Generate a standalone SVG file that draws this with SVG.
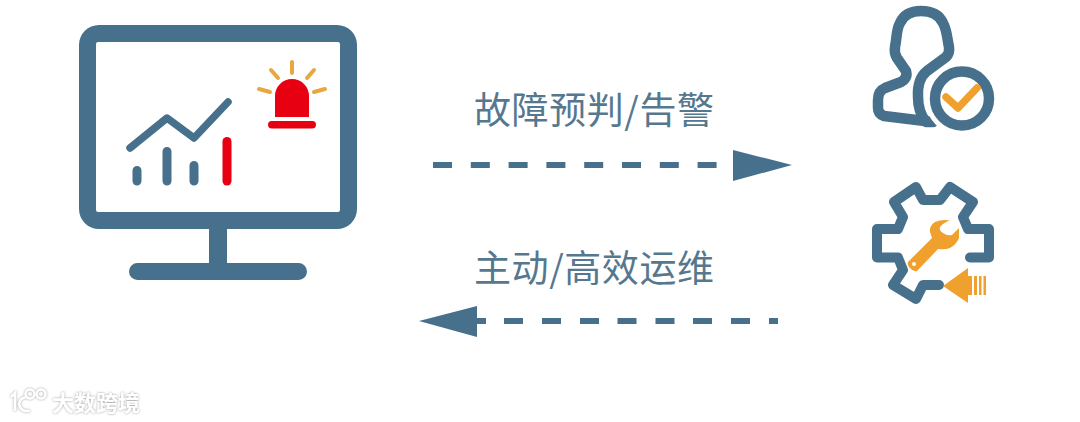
<svg xmlns="http://www.w3.org/2000/svg" width="1080" height="422" viewBox="0 0 1080 422">
<style>
.blue{fill:#46708c}
.line{fill:none;stroke:#46708c;stroke-linecap:round;stroke-linejoin:round}
.or{stroke:#e8a73f;stroke-linecap:round;fill:none}
.red{fill:#e60012}
.lbl{font-family:"Noto Sans CJK SC","Liberation Sans",sans-serif;font-size:37px;fill:#55788f}
.dash{fill:none;stroke:#46708c;stroke-width:6}
.wm{font-family:"Noto Sans CJK SC",sans-serif;font-size:22px;fill:#fff;font-weight:700}
.wl{fill:none;stroke:#fff;stroke-width:2.500}
</style>
<defs>
<filter id="glow" x="-10%" y="-30%" width="120%" height="160%">
<feDropShadow dx="0" dy="0" stdDeviation="1.200" flood-color="#8a8a8a" flood-opacity="0.900"/>
</filter>
</defs>
<rect width="1080" height="422" fill="#fff"/>
<g id="monitor">
<path class="blue" fill-rule="evenodd" d="M99 25H337A20 20 0 0 1 357 45V209A20 20 0 0 1 337 229H227V263H298.500A8.500 8.500 0 0 1 298.500 280H137.500A8.500 8.500 0 0 1 137.500 263H209V229H99A20 20 0 0 1 79 209V45A20 20 0 0 1 99 25ZM98 42A2 2 0 0 0 96 44V210A2 2 0 0 0 98 212H338A2 2 0 0 0 340 210V44A2 2 0 0 0 338 42Z"/>
<path class="line" stroke-width="7.500" d="M130 148L167 118L194 138L228 102"/>
<path class="line" stroke-width="9" d="M137 170.500V181M167 151.500V181M194 165.500V181"/>
<path d="M227 141.500V181" stroke="#e60012" stroke-width="9" stroke-linecap="round"/>
<path class="red" d="M275 117V96A17 17 0 0 1 309 96V117Z"/>
<rect class="red" x="268" y="121" width="48" height="7.500" rx="3.700"/>
<path class="or" stroke-width="4" d="M292 62V73M271 70L278 78M314 70L307 78M259 89L270 92M325 89L314 92"/>
</g>
<g id="user">
<path class="line" stroke-width="10.500" d="M933 122L884 116Q878 114 878 108V100Q878 91 885 88L901 82Q908 78 906 71L897 58Q894 53 895 47C897 38 896 30 900 23C904 14 912 11 921 11C930 11 939 14 943 23C947 30 947 38 949 47Q950 53 946 57L927 71Q917 79 918 97Q918 112 926 122Z"/>
<circle cx="962" cy="98.500" r="27" fill="#fff" stroke="#fff" stroke-width="20"/>
<circle cx="962" cy="98.500" r="27" fill="none" stroke="#46708c" stroke-width="10.500"/>
<path d="M946 97L958 108L977 88" fill="none" stroke="#f0a02c" stroke-width="7.500" stroke-linecap="round" stroke-linejoin="round"/>
</g>
<g id="gear">
<path class="line" stroke-width="10" d="M970 257.500H989V229H968L963 217L973 202L950 187L940 200H923L916 187L894 202L903 217L898 229H877V257.500H898L903 270L893 285L916 299L923 285H939" stroke-linecap="butt"/>
<path d="M950 220.500Q942 219 935 222Q929 226 930 232L932 238L908 262Q907 266 910 268Q913 272 917 271L938 249Q945 250 950 248Q956 245 959 238V228L952 235Q947 236 943 233Q939 231 940 227Q944 222 950 220.500Z" fill="#f0a02c"/>
<circle cx="914" cy="264" r="2" fill="#fff"/>
<path d="M943 286L968 268V276H972V295H968V303Z" fill="#f0a02c"/>
<path d="M974 276H977V295H974ZM979 276H981.500V295H979ZM983.500 276H986V295H983.500Z" fill="#f0a02c"/>
</g>
<g id="connectors">
<path class="dash" stroke-dasharray="19 18.800" d="M433 165H719"/>
<path class="blue" d="M733 150L792 165L733 181Z"/>
<path class="dash" d="M477 321H486M504 321H523M542 321H561M580 321H599M617.500 321H636.500M655.500 321H674.500M693 321H712M731 321H750M769 321H778"/>
<path class="blue" d="M419 321L477 306V337Z"/>
</g>
<g id="labels">
<text class="lbl" x="474" y="124" textLength="240">故障预判/告警</text>
<text class="lbl" x="474" y="282" textLength="240">主动/高效运维</text>
</g>
<g id="watermark" filter="url(#glow)">
<path class="wl" d="M11 397L15 393V411M28 397Q20 397 19 404Q20 412 30 411"/>
<circle class="wl" cx="30" cy="394" r="4.500"/>
<circle class="wl" cx="41" cy="394" r="4.500"/>
<text class="wm" x="52" y="411">大数跨境</text>
</g>
</svg>
